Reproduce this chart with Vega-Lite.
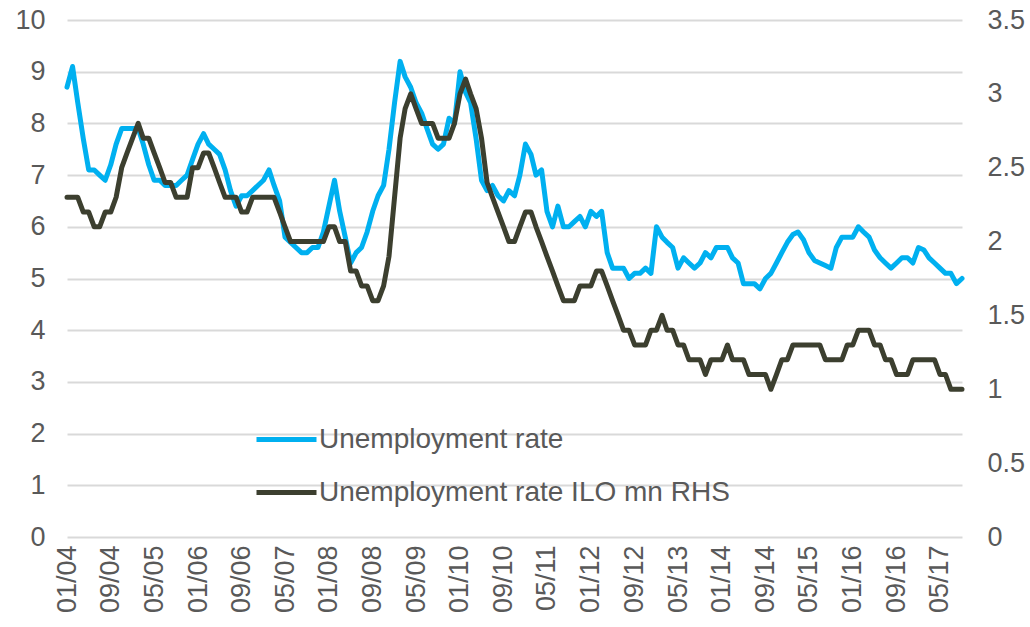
{
  "$schema": "https://vega.github.io/schema/vega-lite/v6.json",
  "autosize": "none",
  "width": 895,
  "height": 517,
  "padding": {"left": 67, "top": 20, "right": 68, "bottom": 90},
  "background": "white",
  "config": {
    "view": {"stroke": null},
    "font": "Liberation Sans",
    "axis": {"labelFont": "Liberation Sans", "labelFontSize": 27, "labelColor": "#595959", "domain": false, "ticks": false, "gridColor": "#d9d9d9", "gridWidth": 2}
  },
  "data": {"values": [
    {"d":"2004-01-01","u":8.7,"r":2.3},{"d":"2004-02-01","u":9.1,"r":2.3},{"d":"2004-03-01","u":8.4,"r":2.3},{"d":"2004-04-01","u":7.7,"r":2.2},{"d":"2004-05-01","u":7.1,"r":2.2},{"d":"2004-06-01","u":7.1,"r":2.1},{"d":"2004-07-01","u":7.0,"r":2.1},{"d":"2004-08-01","u":6.9,"r":2.2},{"d":"2004-09-01","u":7.2,"r":2.2},{"d":"2004-10-01","u":7.6,"r":2.3},{"d":"2004-11-01","u":7.9,"r":2.5},{"d":"2004-12-01","u":7.9,"r":2.6},
    {"d":"2005-01-01","u":7.9,"r":2.7},{"d":"2005-02-01","u":7.9,"r":2.8},{"d":"2005-03-01","u":7.6,"r":2.7},{"d":"2005-04-01","u":7.2,"r":2.7},{"d":"2005-05-01","u":6.9,"r":2.6},{"d":"2005-06-01","u":6.9,"r":2.5},{"d":"2005-07-01","u":6.8,"r":2.4},{"d":"2005-08-01","u":6.8,"r":2.4},{"d":"2005-09-01","u":6.8,"r":2.3},{"d":"2005-10-01","u":6.9,"r":2.3},{"d":"2005-11-01","u":7.0,"r":2.3},{"d":"2005-12-01","u":7.3,"r":2.5},
    {"d":"2006-01-01","u":7.6,"r":2.5},{"d":"2006-02-01","u":7.8,"r":2.6},{"d":"2006-03-01","u":7.6,"r":2.6},{"d":"2006-04-01","u":7.5,"r":2.5},{"d":"2006-05-01","u":7.4,"r":2.4},{"d":"2006-06-01","u":7.1,"r":2.3},{"d":"2006-07-01","u":6.7,"r":2.3},{"d":"2006-08-01","u":6.4,"r":2.3},{"d":"2006-09-01","u":6.6,"r":2.2},{"d":"2006-10-01","u":6.6,"r":2.2},{"d":"2006-11-01","u":6.7,"r":2.3},{"d":"2006-12-01","u":6.8,"r":2.3},
    {"d":"2007-01-01","u":6.9,"r":2.3},{"d":"2007-02-01","u":7.1,"r":2.3},{"d":"2007-03-01","u":6.8,"r":2.3},{"d":"2007-04-01","u":6.5,"r":2.2},{"d":"2007-05-01","u":5.8,"r":2.1},{"d":"2007-06-01","u":5.7,"r":2.0},{"d":"2007-07-01","u":5.6,"r":2.0},{"d":"2007-08-01","u":5.5,"r":2.0},{"d":"2007-09-01","u":5.5,"r":2.0},{"d":"2007-10-01","u":5.6,"r":2.0},{"d":"2007-11-01","u":5.6,"r":2.0},{"d":"2007-12-01","u":5.9,"r":2.0},
    {"d":"2008-01-01","u":6.4,"r":2.1},{"d":"2008-02-01","u":6.9,"r":2.1},{"d":"2008-03-01","u":6.3,"r":2.0},{"d":"2008-04-01","u":5.8,"r":2.0},{"d":"2008-05-01","u":5.3,"r":1.8},{"d":"2008-06-01","u":5.5,"r":1.8},{"d":"2008-07-01","u":5.6,"r":1.7},{"d":"2008-08-01","u":5.9,"r":1.7},{"d":"2008-09-01","u":6.3,"r":1.6},{"d":"2008-10-01","u":6.6,"r":1.6},{"d":"2008-11-01","u":6.8,"r":1.7},{"d":"2008-12-01","u":7.5,"r":1.9},
    {"d":"2009-01-01","u":8.4,"r":2.3},{"d":"2009-02-01","u":9.2,"r":2.7},{"d":"2009-03-01","u":8.9,"r":2.9},{"d":"2009-04-01","u":8.7,"r":3.0},{"d":"2009-05-01","u":8.4,"r":2.9},{"d":"2009-06-01","u":8.2,"r":2.8},{"d":"2009-07-01","u":7.9,"r":2.8},{"d":"2009-08-01","u":7.6,"r":2.8},{"d":"2009-09-01","u":7.5,"r":2.7},{"d":"2009-10-01","u":7.6,"r":2.7},{"d":"2009-11-01","u":8.1,"r":2.7},{"d":"2009-12-01","u":8.0,"r":2.8},
    {"d":"2010-01-01","u":9.0,"r":3.0},{"d":"2010-02-01","u":8.6,"r":3.1},{"d":"2010-03-01","u":8.4,"r":3.0},{"d":"2010-04-01","u":7.7,"r":2.9},{"d":"2010-05-01","u":6.9,"r":2.7},{"d":"2010-06-01","u":6.7,"r":2.4},{"d":"2010-07-01","u":6.8,"r":2.3},{"d":"2010-08-01","u":6.6,"r":2.2},{"d":"2010-09-01","u":6.5,"r":2.1},{"d":"2010-10-01","u":6.7,"r":2.0},{"d":"2010-11-01","u":6.6,"r":2.0},{"d":"2010-12-01","u":7.0,"r":2.1},
    {"d":"2011-01-01","u":7.6,"r":2.2},{"d":"2011-02-01","u":7.4,"r":2.2},{"d":"2011-03-01","u":7.0,"r":2.1},{"d":"2011-04-01","u":7.1,"r":2.0},{"d":"2011-05-01","u":6.3,"r":1.9},{"d":"2011-06-01","u":6.0,"r":1.8},{"d":"2011-07-01","u":6.4,"r":1.7},{"d":"2011-08-01","u":6.0,"r":1.6},{"d":"2011-09-01","u":6.0,"r":1.6},{"d":"2011-10-01","u":6.1,"r":1.6},{"d":"2011-11-01","u":6.2,"r":1.7},{"d":"2011-12-01","u":6.0,"r":1.7},
    {"d":"2012-01-01","u":6.3,"r":1.7},{"d":"2012-02-01","u":6.2,"r":1.8},{"d":"2012-03-01","u":6.3,"r":1.8},{"d":"2012-04-01","u":5.5,"r":1.7},{"d":"2012-05-01","u":5.2,"r":1.6},{"d":"2012-06-01","u":5.2,"r":1.5},{"d":"2012-07-01","u":5.2,"r":1.4},{"d":"2012-08-01","u":5.0,"r":1.4},{"d":"2012-09-01","u":5.1,"r":1.3},{"d":"2012-10-01","u":5.1,"r":1.3},{"d":"2012-11-01","u":5.2,"r":1.3},{"d":"2012-12-01","u":5.1,"r":1.4},
    {"d":"2013-01-01","u":6.0,"r":1.4},{"d":"2013-02-01","u":5.8,"r":1.5},{"d":"2013-03-01","u":5.7,"r":1.4},{"d":"2013-04-01","u":5.6,"r":1.4},{"d":"2013-05-01","u":5.2,"r":1.3},{"d":"2013-06-01","u":5.4,"r":1.3},{"d":"2013-07-01","u":5.3,"r":1.2},{"d":"2013-08-01","u":5.2,"r":1.2},{"d":"2013-09-01","u":5.3,"r":1.2},{"d":"2013-10-01","u":5.5,"r":1.1},{"d":"2013-11-01","u":5.4,"r":1.2},{"d":"2013-12-01","u":5.6,"r":1.2},
    {"d":"2014-01-01","u":5.6,"r":1.2},{"d":"2014-02-01","u":5.6,"r":1.3},{"d":"2014-03-01","u":5.4,"r":1.2},{"d":"2014-04-01","u":5.3,"r":1.2},{"d":"2014-05-01","u":4.9,"r":1.2},{"d":"2014-06-01","u":4.9,"r":1.1},{"d":"2014-07-01","u":4.9,"r":1.1},{"d":"2014-08-01","u":4.8,"r":1.1},{"d":"2014-09-01","u":5.0,"r":1.1},{"d":"2014-10-01","u":5.1,"r":1.0},{"d":"2014-11-01","u":5.3,"r":1.1},{"d":"2014-12-01","u":5.5,"r":1.2},
    {"d":"2015-01-01","u":5.7,"r":1.2},{"d":"2015-02-01","u":5.85,"r":1.3},{"d":"2015-03-01","u":5.9,"r":1.3},{"d":"2015-04-01","u":5.75,"r":1.3},{"d":"2015-05-01","u":5.5,"r":1.3},{"d":"2015-06-01","u":5.35,"r":1.3},{"d":"2015-07-01","u":5.3,"r":1.3},{"d":"2015-08-01","u":5.25,"r":1.2},{"d":"2015-09-01","u":5.2,"r":1.2},{"d":"2015-10-01","u":5.6,"r":1.2},{"d":"2015-11-01","u":5.8,"r":1.2},{"d":"2015-12-01","u":5.8,"r":1.3},
    {"d":"2016-01-01","u":5.8,"r":1.3},{"d":"2016-02-01","u":6.0,"r":1.4},{"d":"2016-03-01","u":5.9,"r":1.4},{"d":"2016-04-01","u":5.8,"r":1.4},{"d":"2016-05-01","u":5.55,"r":1.3},{"d":"2016-06-01","u":5.4,"r":1.3},{"d":"2016-07-01","u":5.3,"r":1.2},{"d":"2016-08-01","u":5.2,"r":1.2},{"d":"2016-09-01","u":5.3,"r":1.1},{"d":"2016-10-01","u":5.4,"r":1.1},{"d":"2016-11-01","u":5.4,"r":1.1},{"d":"2016-12-01","u":5.3,"r":1.2},
    {"d":"2017-01-01","u":5.6,"r":1.2},{"d":"2017-02-01","u":5.55,"r":1.2},{"d":"2017-03-01","u":5.4,"r":1.2},{"d":"2017-04-01","u":5.3,"r":1.2},{"d":"2017-05-01","u":5.2,"r":1.1},{"d":"2017-06-01","u":5.1,"r":1.1},{"d":"2017-07-01","u":5.1,"r":1.0},{"d":"2017-08-01","u":4.9,"r":1.0},{"d":"2017-09-01","u":5.0,"r":1.0}
  ]},
  "encoding": {
    "x": {
      "field": "d", "type": "temporal",
      "scale": {"type": "utc", "nice": false},
      "axis": {
        "title": null, "grid": false, "labelAngle": -90, "labelPadding": 8, "labelExpr": "utcFormat(datum.value, '%m/%y')", "labelFlush": false, "labelOverlap": false,
        "values": [
          {"year":2004,"month":1,"date":1,"utc":true},{"year":2004,"month":9,"date":1,"utc":true},{"year":2005,"month":5,"date":1,"utc":true},
          {"year":2006,"month":1,"date":1,"utc":true},{"year":2006,"month":9,"date":1,"utc":true},{"year":2007,"month":5,"date":1,"utc":true},
          {"year":2008,"month":1,"date":1,"utc":true},{"year":2008,"month":9,"date":1,"utc":true},{"year":2009,"month":5,"date":1,"utc":true},
          {"year":2010,"month":1,"date":1,"utc":true},{"year":2010,"month":9,"date":1,"utc":true},{"year":2011,"month":5,"date":1,"utc":true},
          {"year":2012,"month":1,"date":1,"utc":true},{"year":2012,"month":9,"date":1,"utc":true},{"year":2013,"month":5,"date":1,"utc":true},
          {"year":2014,"month":1,"date":1,"utc":true},{"year":2014,"month":9,"date":1,"utc":true},{"year":2015,"month":5,"date":1,"utc":true},
          {"year":2016,"month":1,"date":1,"utc":true},{"year":2016,"month":9,"date":1,"utc":true},{"year":2017,"month":5,"date":1,"utc":true}
        ]
      }
    }
  },
  "layer": [
    {
      "mark": {"type": "line", "strokeWidth": 5, "strokeJoin": "round", "strokeCap": "round"},
      "encoding": {
        "y": {"field": "u", "type": "quantitative", "scale": {"domain": [0, 10], "nice": false, "zero": true},
          "axis": {"title": null, "orient": "left", "grid": true, "values": [0,1,2,3,4,5,6,7,8,9,10], "labelPadding": 22}},
        "color": {"datum": "Unemployment rate", "type": "nominal",
          "scale": {"domain": ["Unemployment rate", "Unemployment rate ILO mn RHS"], "range": ["#00B0F0", "#3C3F2F"]},
          "legend": {"title": null, "orient": "none", "legendX": 202, "legendY": 402, "padding": 0,
            "symbolType": "M-2,0H2", "symbolSize": 900, "symbolStrokeWidth": 5,
            "labelFont": "Liberation Sans", "labelFontSize": 28, "labelColor": "#595959", "labelOffset": 15, "rowPadding": 21, "labelLimit": 600}}
      }
    },
    {
      "mark": {"type": "line", "strokeWidth": 5, "strokeJoin": "round", "strokeCap": "round"},
      "encoding": {
        "y": {"field": "r", "type": "quantitative", "scale": {"domain": [0, 3.5], "nice": false, "zero": true},
          "axis": {"title": null, "orient": "right", "grid": false, "values": [0,0.5,1,1.5,2,2.5,3,3.5], "format": "~g", "labelPadding": 25}},
        "color": {"datum": "Unemployment rate ILO mn RHS", "type": "nominal"}
      }
    }
  ],
  "resolve": {"scale": {"y": "independent"}}
}
